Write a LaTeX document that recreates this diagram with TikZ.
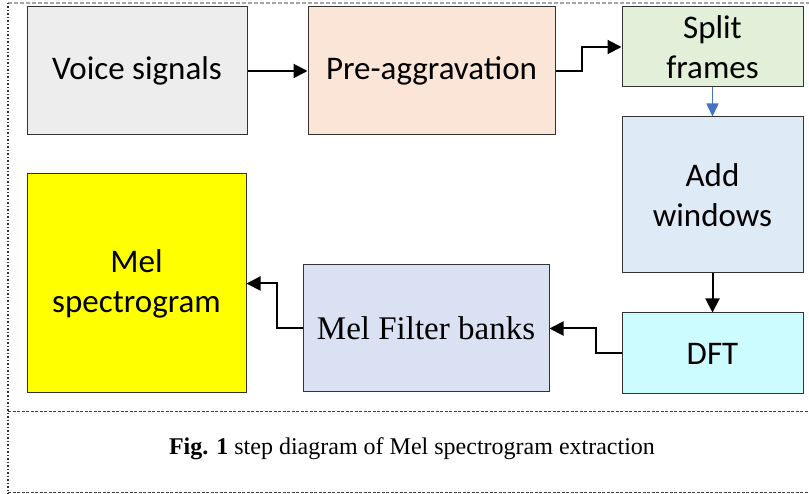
\documentclass[tikz,border=0pt]{standalone}
\usepackage{fontspec}
\setmainfont{Carlito}
\newfontfamily\timesf{Liberation Serif}
\usetikzlibrary{arrows.meta}
\definecolor{voicefill}{HTML}{EDEDED}
\definecolor{prefill}{HTML}{FBE5D6}
\definecolor{splitfill}{HTML}{E2F0D9}
\definecolor{addfill}{HTML}{DEEBF7}
\definecolor{dftfill}{HTML}{CCFCFF}
\definecolor{filtfill}{HTML}{DAE1F3}
\definecolor{melfill}{HTML}{FFFF00}
\definecolor{linkblue}{HTML}{4472C4}
\tikzset{
  stage/.style={draw=black!80, line width=1pt, align=center, inner sep=0pt,
    font=\fontsize{33}{40}\selectfont},
  link/.style={draw=black, line width=2pt,
    -{Triangle[length=14pt,width=14pt]}},
  bluelink/.style={draw=linkblue, line width=1.6pt,
    -{Triangle[length=13pt,width=12pt]}},
}
\begin{document}
\begin{tikzpicture}[x=1pt,y=-1pt]
\useasboundingbox (0,0) rectangle (809,494);

% frame of the figure
\draw[black!35, line width=1.2pt, dash pattern=on 4pt off 2pt] (8,3) -- (809,3);
\draw[black!80, line width=1.4pt, dash pattern=on 1.5pt off 2pt] (8,3) -- (8,494);
\draw[black!75, line width=0.8pt, dash pattern=on 3pt off 1.5pt] (8,411) -- (809,411);
\draw[black!75, line width=0.8pt, dash pattern=on 3pt off 1.5pt] (8,492) -- (809,492);

% processing stages
\node[stage, fill=voicefill, minimum width=220pt, minimum height=128pt] (voice) at (137,71) {Voice signals};
\node[stage, fill=prefill, minimum width=247pt, minimum height=128pt] (pre) at (431.5,71) {Pre-aggravation};
\node[stage, fill=splitfill, minimum width=181pt, minimum height=80pt] (split) at (712.5,47) {Split\\frames};
\node[stage, fill=addfill, minimum width=181pt, minimum height=156pt] (add) at (712.5,195) {Add\\windows};
\node[stage, fill=dftfill, minimum width=181pt, minimum height=81pt] (dft) at (712.5,353.5) {DFT};
\node[stage, fill=filtfill, minimum width=246pt, minimum height=127pt,
  font=\timesf\fontsize{33}{40}\selectfont] (filt) at (426,328.5) {Mel Filter banks};
\node[stage, fill=melfill, minimum width=219pt, minimum height=219pt] (mel) at (136.5,283.5) {Mel\\spectrogram};

% connectors
\draw[link] (voice.east) -- (pre.west);
\draw[link] (pre.east) -- ++(26,0) |- (split.west);
\draw[bluelink] (split.south) -- (add.north);
\draw[link] (add.south) -- (dft.north);
\draw[link] (dft.west) -- ++(-26,0) |- (filt.east);
\draw[link] (filt.west) -- ++(-26,0) |- (mel.east);

% caption
\node[font=\timesf\fontsize{24}{28}\selectfont] (caption) at (412,449)
  {\textbf{Fig. 1} step diagram of Mel spectrogram extraction};
\end{tikzpicture}
\end{document}
